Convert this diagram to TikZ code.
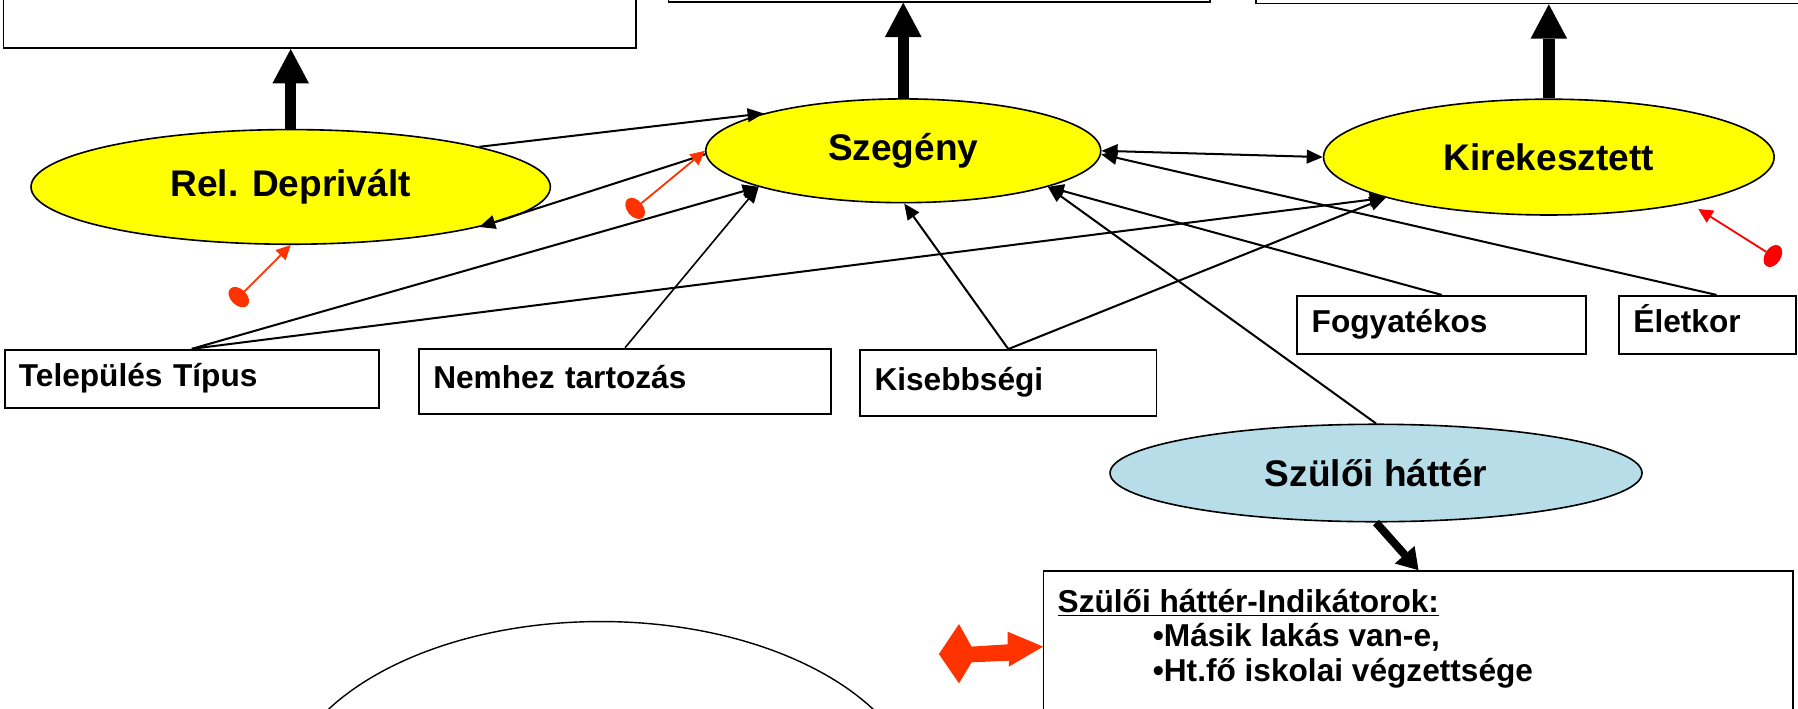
\documentclass[tikz,border=0pt]{standalone}
\usepackage{fontspec}
\setmainfont{Liberation Sans}
\usetikzlibrary{shapes.geometric,arrows.meta,calc}
\definecolor{conceptyellow}{RGB}{255,255,0}
\definecolor{parentblue}{RGB}{183,222,232}
\definecolor{orangered}{RGB}{255,51,0}
\definecolor{purered}{RGB}{255,0,0}
\newcommand\lblfont{\fontsize{18.4}{22}\selectfont\bfseries}
\newcommand\boxfont{\fontsize{15.7}{17}\selectfont\bfseries}

\begin{document}
\begin{tikzpicture}[x=0.02cm,y=-0.02cm,
  concept/.style={ellipse,draw,line width=0.8pt,fill=conceptyellow,inner sep=0pt,font=\lblfont},
  factor/.style 2 args={rectangle,draw,line width=0.9pt,fill=white,inner ysep=0pt,inner xsep=0.25cm,
    align=left,font=\boxfont,text height=11pt,text depth=3.5pt,text width=#1,minimum height=#2},
  frame/.style={rectangle,draw,line width=0.9pt,fill=white,inner sep=0pt},
  itemtext/.style={anchor=base west,inner sep=0pt,font=\boxfont},
  link/.style={line width=1pt,-{Triangle[length=0.28cm,width=0.24cm]}},
  twoway/.style={line width=1pt,{Triangle[length=0.28cm,width=0.24cm]}-{Triangle[length=0.28cm,width=0.24cm]}},
  effect/.style={line width=0.2cm,-{Triangle[length=0.6cm,width=0.64cm,line width=0pt]}},
  smalleffect/.style={line width=0.14cm,-{Triangle[length=0.36cm,width=0.46cm,line width=0pt]}},
  feedback/.style={line width=0.9pt,{Ellipse[length=0.28cm,width=0.42cm,line width=0pt]}-{Triangle[length=0.25cm,width=0.25cm,line width=0pt]}}
]
\clip (0,0) rectangle (1568,618);

% outcome boxes along the top edge
\node[frame,minimum width=11.04cm,minimum height=1.64cm] (tl) at (279,1) {};
\node[frame,minimum width=9.44cm,minimum height=1.66cm] (tm) at (819,-40) {};
\node[frame,minimum width=9.8cm,minimum height=1.72cm] (tr) at (1340,-40) {};

% the three poverty concepts
\node[concept,minimum width=9.06cm,minimum height=2.0cm] (rel) at (253.5,163) {Rel. Deprivált};
\node[concept,minimum width=6.89cm,minimum height=1.81cm] (sze) at (787.7,131.5) {Szegény};
\node[concept,minimum width=7.86cm,minimum height=2.02cm] (kir) at (1350.7,137) {Kirekesztett};

% background factors
\node[factor={6.03cm}{1.02cm}] (tel) at (167.25,330.5) {Település Típus};
\node[factor={6.69cm}{1.14cm}] (nem) at (545.1,332.5) {Nemhez tartozás};
\node[factor={4.67cm}{1.146cm}] (kis) at (879.35,333.85) {Kisebbségi};
\node[factor={4.54cm}{1.02cm}] (fog) at (1257.4,283.5) {Fogyatékos};
\node[factor={2.58cm}{1.02cm}] (elet) at (1489,283.5) {Életkor};

% parental background and its indicators
\node[concept,fill=parentblue,minimum width=9.28cm,minimum height=1.70cm] (szul) at (1200,412.5) {Szülői háttér};
\node[frame,minimum width=13.08cm,minimum height=3.64cm] (ind) at (1237,589) {};
\node[itemtext] (indhead) at (922,534) {\underline{Szülői háttér-Indikátorok:}};
\node[itemtext] (ind1) at (1005,564) {•Másik lakás van-e,};
\node[itemtext] (ind2) at (1005,594) {•Ht.fő iskolai végzettsége};

% partly visible ellipse at the bottom
\node[ellipse,draw,line width=0.7pt,fill=white,minimum width=11.16cm,minimum height=6.44cm] (bot) at (524,703) {};

% links between the concepts
\draw[link] (rel.12.75) -- (sze.165.7);
\draw[link] (sze.181) -- (rel.-12.5);
\draw[twoway] (sze.east) -- (kir.west);

% links from the factors
\draw[link] (tel.north) -- (sze.194.5);
\draw[link,line width=0.8pt] (nem.north) -- (sze.194.5);
\draw[link] (tel.north) -- (kir.194.4);
\draw[link] (kis.north) -- (sze.-89);
\draw[link] (kis.north) -- (kir.194.4);
\draw[link] (szul.north) -- (sze.-14.65);
\draw[link] (fog.north) -- (sze.-14.65);
\draw[link] ($(elet.north)+(8,0)$) -- (sze.-1);

% effects on the outcomes
\draw[effect] (rel.north) -- (rel.north |- tl.south);
\draw[effect] (sze.north) -- (sze.north |- tm.south);
\draw[effect] (kir.north) -- (kir.north |- tr.south);
\draw[smalleffect] (szul.south) -- (ind.north);

% feedback markers
\coordinate (fa) at (203.3,264.1);
\coordinate (fb) at (548.5,186.2);
\coordinate (fc) at (1552,227);
\coordinate (fcend) at (1481.1,182.3);
\draw[feedback,orangered] (fa) -- (rel.south);
\draw[feedback,orangered] (fb) -- (sze.west);
\draw[feedback,purered] (fc) -- (fcend);

% block double arrow at the indicator box
\fill[orangered] (818.8,570.4) -- (836.3,544.2) -- (847.3,563.9) -- (878.8,561.9) -- (878.8,550.9)
  -- (909.7,563.9) -- (879.7,581.4) -- (879.7,576.2) -- (847.3,577.6) -- (836.3,595.9) -- cycle;
\end{tikzpicture}
\end{document}
